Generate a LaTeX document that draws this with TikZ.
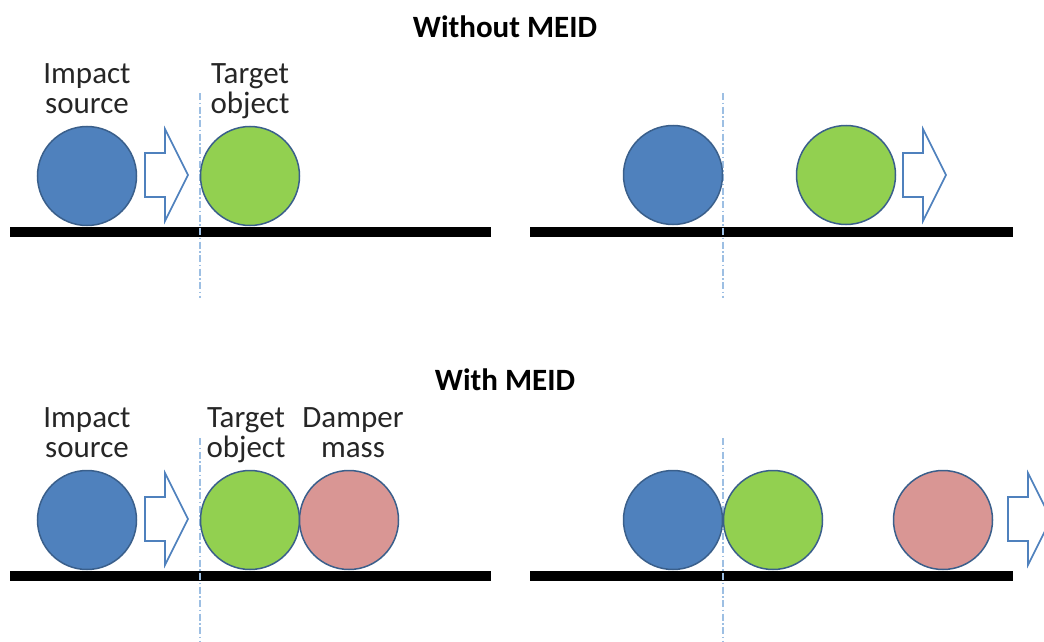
\documentclass[tikz,border=0pt]{standalone}
\usepackage{fontspec}
\setmainfont{Carlito}
\begin{document}
\begin{tikzpicture}[x=1pt,y=-1pt,
  ball/.style={circle,draw=ballline,line width=1.5pt,minimum size=99pt,inner sep=0pt},
  blueball/.style={ball,fill=ballblue},
  greenball/.style={ball,fill=ballgreen},
  pinkball/.style={ball,fill=ballpink},
  ground/.style={line width=10pt,black},
  refline/.style={draw=refblue,line width=1.2pt,dash pattern=on 7pt off 2.5pt on 1.5pt off 2.5pt},
  lbl/.style={align=center,anchor=base,font=\fontsize{31}{30}\selectfont,text=black!85,inner sep=0pt},
  ttl/.style={font=\fontsize{31}{30}\selectfont\bfseries,inner sep=0pt},
  bigarrow/.pic={\draw[draw=arrowblue,fill=white,line width=1.6pt,line join=miter]
     (0,-22)--(20,-22)--(20,-46)--(43,0)--(20,46)--(20,22)--(0,22)--cycle;}
]
\definecolor{ballblue}{HTML}{4F81BD}
\definecolor{ballgreen}{HTML}{92D050}
\definecolor{ballpink}{HTML}{D99694}
\definecolor{ballline}{HTML}{3A5F8B}
\definecolor{arrowblue}{HTML}{4F81BD}
\definecolor{refblue}{HTML}{9DBFE3}
\useasboundingbox (0,0) rectangle (1044,642);
\clip (0,0) rectangle (1044,642);

% titles
\node[ttl] (t1) at (505,27) {Without MEID};
\node[ttl] (t2) at (505,380) {With MEID};

% ---------- top left ----------
\coordinate (g1a) at (10,232); \coordinate (g1b) at (491,232);
\draw[ground] (g1a) -- (g1b);
\coordinate (r1a) at (200,93); \coordinate (r1b) at (200,298);
\draw[refline] (r1a) -- (r1b);
\node[blueball] (b1) at (87,176) {};
\node[greenball] (gr1) at (250,176) {};
\pic at (145,175) {bigarrow};
\node[lbl] (l1) at (87,113) {Impact\\source};
\node[lbl] (l2) at (250,113) {Target\\object};

% ---------- top right ----------
\coordinate (g2a) at (530,232); \coordinate (g2b) at (1013,232);
\draw[ground] (g2a) -- (g2b);
\coordinate (r2a) at (723,93); \coordinate (r2b) at (723,298);
\draw[refline] (r2a) -- (r2b);
\node[blueball] (b2) at (673,175) {};
\node[greenball] (gr2) at (846,175) {};
\pic at (903,175) {bigarrow};

% ---------- bottom left ----------
\coordinate (g3a) at (10,576); \coordinate (g3b) at (491,576);
\draw[ground] (g3a) -- (g3b);
\coordinate (r3a) at (200,438); \coordinate (r3b) at (200,642);
\draw[refline] (r3a) -- (r3b);
\node[blueball] (b3) at (87,520) {};
\node[greenball] (gr3) at (250,520) {};
\node[pinkball] (p3) at (349,520) {};
\pic at (145,519) {bigarrow};
\node[lbl] (l3) at (87,457) {Impact\\source};
\node[lbl] (l4) at (246,457) {Target\\object};
\node[lbl] (l5) at (353,457) {Damper\\mass};

% ---------- bottom right ----------
\coordinate (g4a) at (530,576); \coordinate (g4b) at (1013,576);
\draw[ground] (g4a) -- (g4b);
\coordinate (r4a) at (723,438); \coordinate (r4b) at (723,642);
\draw[refline] (r4a) -- (r4b);
\node[blueball] (b4) at (673,520) {};
\node[greenball] (gr4) at (773,520) {};
\node[pinkball] (p4) at (943,520) {};
\pic at (1008,519) {bigarrow};
\end{tikzpicture}
\end{document}
